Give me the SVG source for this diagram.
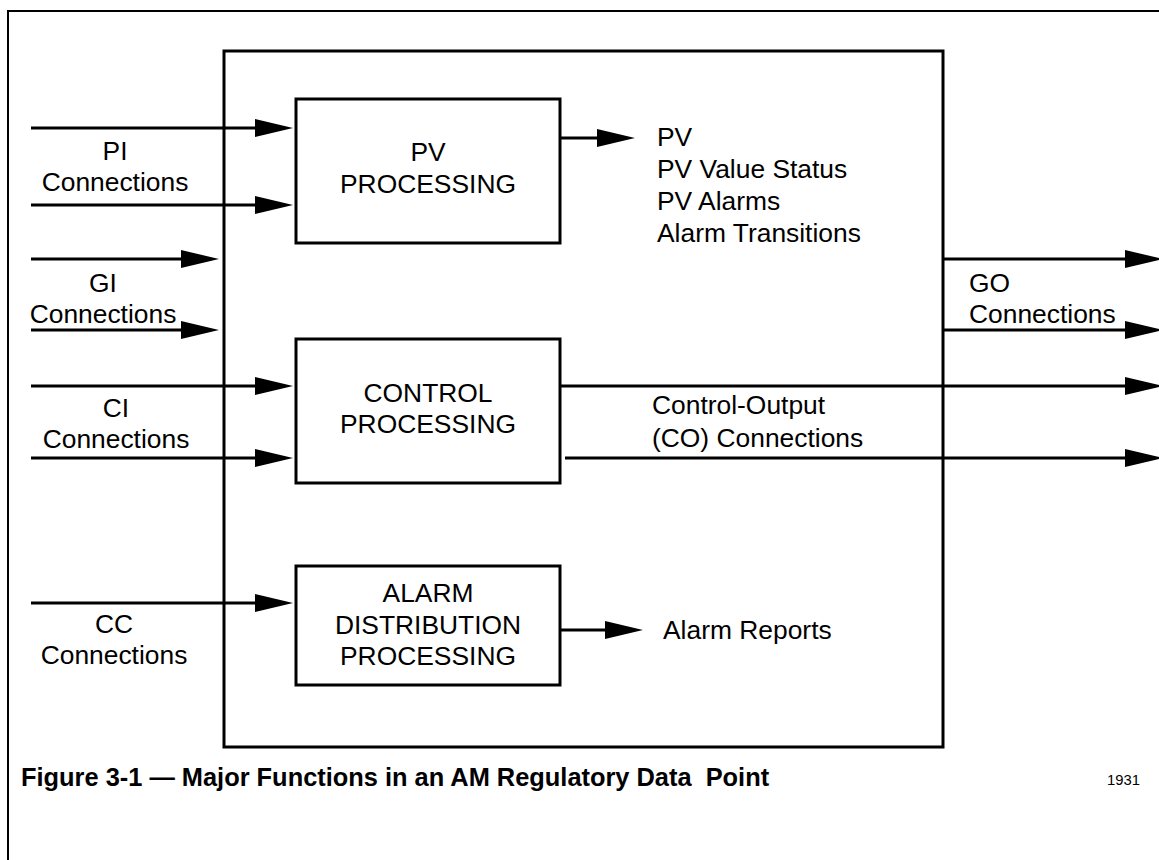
<svg xmlns="http://www.w3.org/2000/svg" width="1159" height="860" viewBox="0 0 1159 860">
  <style>
    .frame { fill: none; stroke: #000; stroke-width: 2; }
    .box { fill: none; stroke: #000; stroke-width: 3; }
    .wire { fill: none; stroke: #000; stroke-width: 2.8; }
    text { font-family: "Liberation Sans", Arial, Helvetica, sans-serif; font-size: 26.4px; fill: #000; }
    .c { text-anchor: middle; }
    .title { font-weight: bold; font-size: 25.4px; }
    .num { font-size: 14.8px; }
  </style>
  <defs>
    <marker id="arrow" markerUnits="userSpaceOnUse" markerWidth="40" markerHeight="20" refX="28" refY="9" orient="auto" overflow="visible">
      <path d="M0,0 L38,9 L0,18 Z" fill="#000"/>
    </marker>
  </defs>

  <rect width="1159" height="860" fill="#fff"/>

  <!-- page frame -->
  <path class="frame" d="M8,860 V11 H1159"/>

  <!-- regulatory data point enclosure -->
  <g id="data-point">
    <rect class="box" x="224" y="51" width="719" height="696"/>
  </g>

  <g id="pv-processing">
    <rect class="box" x="296" y="99" width="264" height="144"/>
    <text class="c" x="428" y="161">PV</text>
    <text class="c" x="428" y="193">PROCESSING</text>
  </g>

  <g id="control-processing">
    <rect class="box" x="296" y="339" width="264" height="144"/>
    <text class="c" x="428" y="402">CONTROL</text>
    <text class="c" x="428" y="433">PROCESSING</text>
  </g>

  <g id="alarm-distribution">
    <rect class="box" x="296" y="566" width="264" height="119"/>
    <text class="c" x="428" y="602">ALARM</text>
    <text class="c" x="428" y="634">DISTRIBUTION</text>
    <text class="c" x="428" y="665">PROCESSING</text>
  </g>

  <!-- connectors: line ends 10px short of the arrow tip -->
  <g id="connectors" class="wire" marker-end="url(#arrow)">
    <!-- PI inputs -->
    <path d="M31,128 H283"/>
    <path d="M31,205 H283"/>
    <!-- GI inputs -->
    <path d="M31,259 H209"/>
    <path d="M31,330 H209"/>
    <!-- CI inputs -->
    <path d="M31,386 H283"/>
    <path d="M31,458 H283"/>
    <!-- CC input -->
    <path d="M31,603 H283"/>
    <!-- PV outputs -->
    <path d="M560,138 H625"/>
    <!-- alarm reports -->
    <path d="M560,630 H633"/>
    <!-- GO outputs -->
    <path d="M943,259 H1153"/>
    <path d="M943,330 H1153"/>
    <!-- CO outputs -->
    <path d="M560,386 H1153"/>
    <path d="M565,458 H1153"/>
  </g>

  <!-- connection labels -->
  <g id="labels">
    <text class="c" x="115" y="160">PI</text>
    <text class="c" x="115" y="191">Connections</text>
    <text class="c" x="103" y="292">GI</text>
    <text class="c" x="103" y="323">Connections</text>
    <text class="c" x="116" y="417">CI</text>
    <text class="c" x="116" y="448">Connections</text>
    <text class="c" x="114" y="633">CC</text>
    <text class="c" x="114" y="664">Connections</text>

    <text x="657" y="146">PV</text>
    <text x="657" y="178">PV Value Status</text>
    <text x="657" y="210">PV Alarms</text>
    <text x="657" y="242">Alarm Transitions</text>

    <text x="969" y="292">GO</text>
    <text x="969" y="323">Connections</text>

    <text x="652" y="414">Control-Output</text>
    <text x="652" y="447">(CO) Connections</text>

    <text x="663" y="639">Alarm Reports</text>
  </g>

  <text class="title" x="21" y="786" xml:space="preserve">Figure 3-1 — Major Functions in an AM Regulatory Data  Point</text>
  <text class="num" x="1107" y="785">1931</text>
</svg>
